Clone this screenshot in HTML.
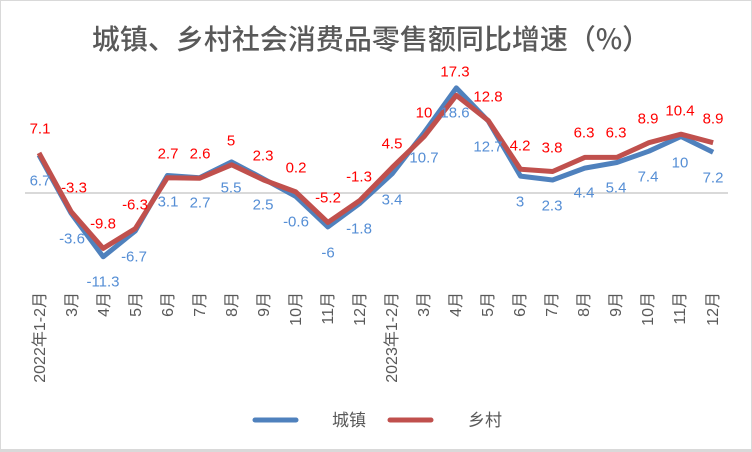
<!DOCTYPE html>
<html><head><meta charset="utf-8"><style>
html,body{margin:0;padding:0;background:#fff}
svg{display:block}
text{font-family:"Liberation Sans","Noto Sans CJK SC",sans-serif}
</style></head><body>
<svg width="752" height="452" viewBox="0 0 752 452" xmlns="http://www.w3.org/2000/svg">
<rect x="0.5" y="0.5" width="751" height="450" fill="#fff" stroke="#d9d9d9" stroke-width="1"/>
<rect x="0" y="449" width="752" height="3" fill="#d9d9d9"/>
<text x="371" y="49" text-anchor="middle" font-size="28" fill="#595959" style="font-family:'Noto Sans CJK SC',sans-serif;font-weight:500">城镇、乡村社会消费品零售额同比增速（%）</text>
<line x1="25" y1="193" x2="728" y2="193" stroke="#d9d9d9" stroke-width="2"/>
<polyline fill="none" stroke="#4f81bd" stroke-width="5" stroke-linejoin="round" points="39,155.1 71.1,213.3 103.2,256.8 135.3,230.9 167.4,175.5 199.5,177.7 231.6,161.9 263.7,178.9 295.8,196.4 327.9,226.9 360,203.2 392.1,173.8 424.2,132.5 456.3,87.9 488.4,121.2 520.5,176.1 552.6,180 584.7,168.1 616.8,162.5 648.9,151.2 681,136.5 713.1,152.3"/>
<polyline fill="none" stroke="#c0504d" stroke-width="5" stroke-linejoin="round" points="39,152.9 71.1,211.6 103.2,248.4 135.3,228.6 167.4,177.7 199.5,178.3 231.6,164.8 263.7,180 295.8,191.9 327.9,222.4 360,200.3 392.1,167.6 424.2,136.5 456.3,95.3 488.4,120.7 520.5,169.3 552.6,171.5 584.7,157.4 616.8,157.4 648.9,142.7 681,134.2 713.1,142.7"/>
<g font-size="15" fill="#ff0000" text-anchor="middle" dominant-baseline="central">
<text x="40" y="129">7.1</text><text x="74" y="188">-3.3</text><text x="103" y="224">-9.8</text><text x="135" y="205">-6.3</text><text x="168" y="154">2.7</text><text x="200" y="154">2.6</text><text x="231" y="141">5</text><text x="263" y="156">2.3</text><text x="296" y="168">0.2</text><text x="328" y="198">-5.2</text><text x="359" y="177">-1.3</text><text x="392" y="144">4.5</text><text x="424" y="113">10</text><text x="455" y="72">17.3</text><text x="488" y="97">12.8</text><text x="520" y="146">4.2</text><text x="552" y="148">3.8</text><text x="584" y="133">6.3</text><text x="616" y="133">6.3</text><text x="648" y="119">8.9</text><text x="680" y="111">10.4</text><text x="713" y="119">8.9</text>
</g>
<g font-size="15" fill="#558ed5" text-anchor="middle" dominant-baseline="central">
<text x="40" y="181">6.7</text><text x="72" y="239">-3.6</text><text x="103" y="282">-11.3</text><text x="134" y="257">-6.7</text><text x="168" y="202">3.1</text><text x="200" y="203">2.7</text><text x="231" y="188">5.5</text><text x="263" y="205">2.5</text><text x="296" y="222">-0.6</text><text x="328" y="253">-6</text><text x="359" y="229">-1.8</text><text x="392" y="200">3.4</text><text x="424" y="158">10.7</text><text x="455" y="113">18.6</text><text x="488" y="147">12.7</text><text x="520" y="202">3</text><text x="552" y="206">2.3</text><text x="584" y="193">4.4</text><text x="616" y="188">5.4</text><text x="648" y="177">7.4</text><text x="680" y="163">10</text><text x="713" y="178">7.2</text>
</g>
<g font-size="16" fill="#595959" text-anchor="end">
<text transform="translate(45,292) rotate(-90)">2022年1-2月</text>
<text transform="translate(77,292) rotate(-90)">3月</text>
<text transform="translate(109,292) rotate(-90)">4月</text>
<text transform="translate(141,292) rotate(-90)">5月</text>
<text transform="translate(173,292) rotate(-90)">6月</text>
<text transform="translate(205,292) rotate(-90)">7月</text>
<text transform="translate(237,292) rotate(-90)">8月</text>
<text transform="translate(269,292) rotate(-90)">9月</text>
<text transform="translate(301,292) rotate(-90)">10月</text>
<text transform="translate(333,292) rotate(-90)">11月</text>
<text transform="translate(365,292) rotate(-90)">12月</text>
<text transform="translate(397,292) rotate(-90)">2023年1-2月</text>
<text transform="translate(429,292) rotate(-90)">3月</text>
<text transform="translate(461,292) rotate(-90)">4月</text>
<text transform="translate(493,292) rotate(-90)">5月</text>
<text transform="translate(525,292) rotate(-90)">6月</text>
<text transform="translate(557,292) rotate(-90)">7月</text>
<text transform="translate(589,292) rotate(-90)">8月</text>
<text transform="translate(621,292) rotate(-90)">9月</text>
<text transform="translate(653,292) rotate(-90)">10月</text>
<text transform="translate(685,292) rotate(-90)">11月</text>
<text transform="translate(718,292) rotate(-90)">12月</text>
</g>
<line x1="255" y1="420" x2="296" y2="420" stroke="#4f81bd" stroke-width="5" stroke-linecap="round"/>
<text x="332" y="426" font-size="17" fill="#595959">城镇</text>
<line x1="390" y1="420" x2="431" y2="420" stroke="#c0504d" stroke-width="5" stroke-linecap="round"/>
<text x="468" y="426" font-size="17" fill="#595959">乡村</text>
</svg>
</body></html>
